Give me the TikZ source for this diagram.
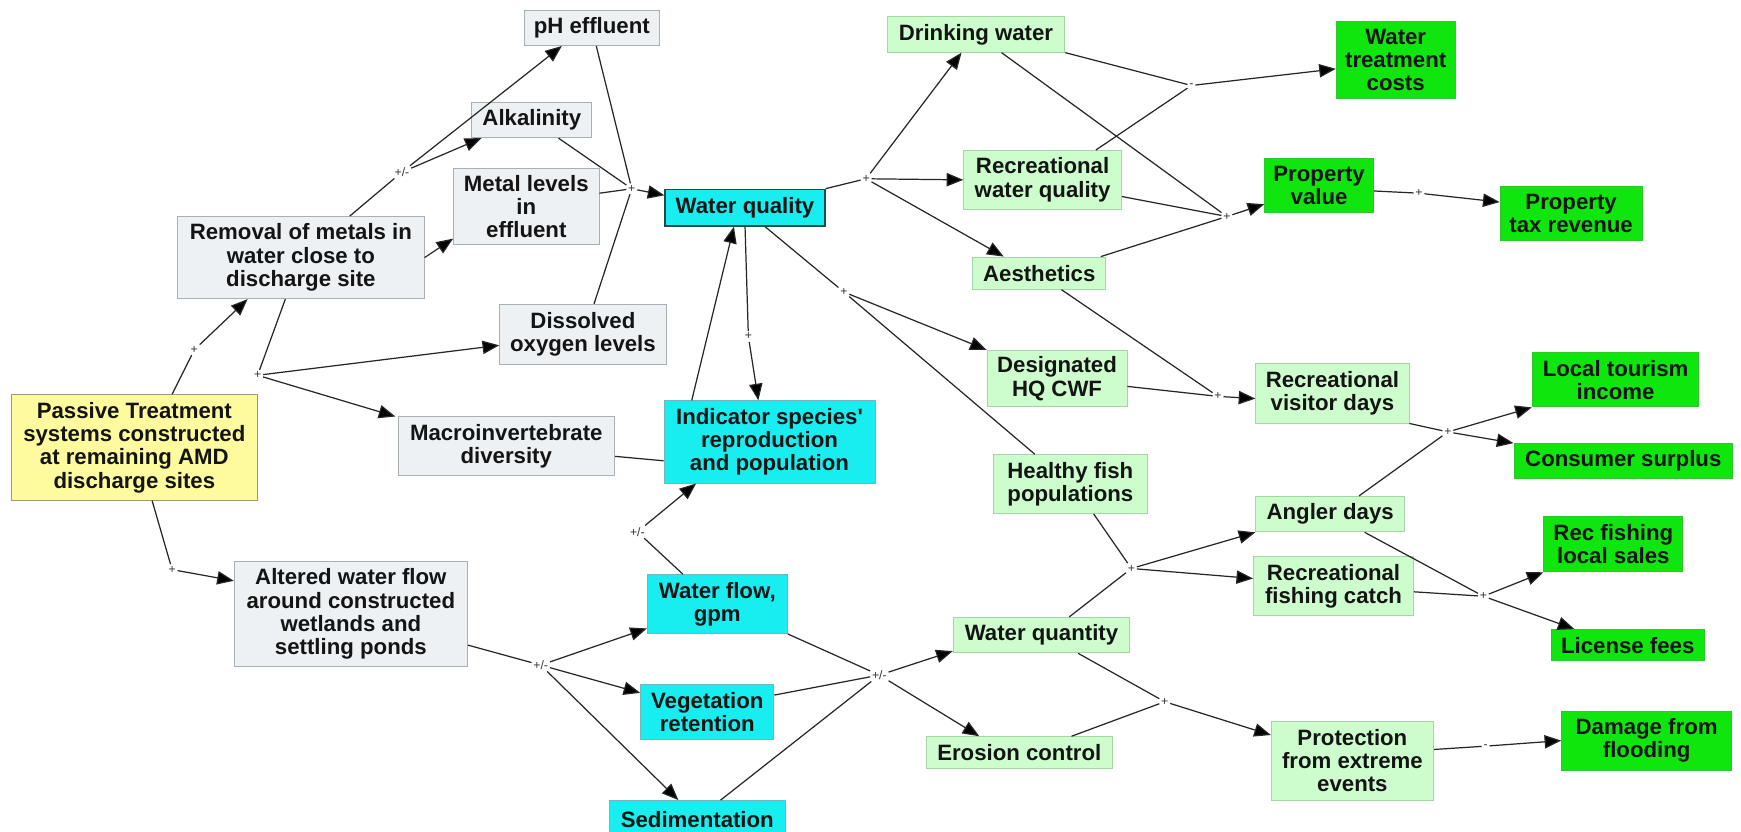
\documentclass[tikz,border=0pt]{standalone}
\usepackage{fontspec}
\setmainfont{Liberation Sans}
\usetikzlibrary{arrows.meta}
\definecolor{gfill}{HTML}{EDF1F3}
\definecolor{gborder}{HTML}{A9B0B4}
\definecolor{yfill}{HTML}{FDFB9E}
\definecolor{yborder}{HTML}{9C9A78}
\definecolor{cfill}{HTML}{18EEF0}
\definecolor{cborder}{HTML}{6FB8BC}
\definecolor{wqborder}{HTML}{1E4A50}
\definecolor{lgfill}{HTML}{CDFDCD}
\definecolor{lgborder}{HTML}{A6D4A6}
\definecolor{gnfill}{HTML}{0EE60E}
\definecolor{gnborder}{HTML}{2CC82C}
\definecolor{jtext}{HTML}{333333}
\begin{document}
\begin{tikzpicture}[x=1pt,y=-1pt,
  box/.style={line width=0.8pt, align=center, inner sep=2pt,
    font=\fontsize{20}{21}\selectfont\bfseries, text=black!92},
  gbox/.style={box, fill=gfill, draw=gborder},
  ybox/.style={box, fill=yfill, draw=yborder},
  cbox/.style={box, fill=cfill, draw=cborder},
  lbox/.style={box, fill=lgfill, draw=lgborder},
  nbox/.style={box, fill=gnfill, draw=gnborder},
  jl/.style={font=\fontsize{11}{11}\selectfont, text=jtext, inner sep=1.5pt},
  ln/.style={line width=1.1pt, draw=black!85},
  ar/.style={ln, -{Triangle[length=15pt,width=12pt,fill=black]}}]
\fill[white] (0,0) rectangle (1568,749);
\useasboundingbox (0,0) rectangle (1568,749);

% grey nodes
\node[gbox, minimum width=122pt, minimum height=32pt] (ph) at (533,25) {pH effluent};
\node[gbox, minimum width=108pt, minimum height=32pt] (alk) at (479,108) {Alkalinity};
\node[gbox, minimum width=131pt, minimum height=69pt] (metal) at (474,186) {Metal levels\\in\\effluent};
\node[gbox, minimum width=222pt, minimum height=74pt] (removal) at (271,232) {Removal of metals in\\water close to\\discharge site};
\node[gbox, minimum width=150pt, minimum height=54pt] (dox) at (525,301) {Dissolved\\oxygen levels};
\node[gbox, minimum width=195pt, minimum height=53pt] (macro) at (456,402) {Macroinvertebrate\\diversity};
\node[gbox, minimum width=210pt, minimum height=95pt] (altered) at (316,553) {Altered water flow\\around constructed\\wetlands and\\settling ponds};
% yellow
\node[ybox, minimum width=222pt, minimum height=95pt] (passive) at (121,403) {Passive Treatment\\systems constructed\\at remaining AMD\\discharge sites};
% cyan
\node[cbox, draw=wqborder, line width=1.2pt, minimum width=144pt, minimum height=33pt] (wq) at (671,187) {Water quality};
\node[cbox, minimum width=190pt, minimum height=74pt] (indic) at (693,398) {Indicator species\textquotesingle\\reproduction\\and population};
\node[cbox, minimum width=126pt, minimum height=53pt] (wflow) at (646,544) {Water flow,\\gpm};
\node[cbox, minimum width=120pt, minimum height=50pt] (veg) at (637,641) {Vegetation\\retention};
\node[cbox, minimum width=159pt, minimum height=34pt] (sed) at (628,738) {Sedimentation};
% light green
\node[lbox, minimum width=160pt, minimum height=32pt] (drink) at (879,31) {Drinking water};
\node[lbox, minimum width=142pt, minimum height=53pt] (recwq) at (939,162) {Recreational\\water quality};
\node[lbox, minimum width=120pt, minimum height=29pt] (aes) at (936,246) {Aesthetics};
\node[lbox, minimum width=126pt, minimum height=51pt] (desig) at (952,341) {Designated\\HQ CWF};
\node[lbox, minimum width=138pt, minimum height=53pt] (fish) at (964,436) {Healthy fish\\populations};
\node[lbox, minimum width=159pt, minimum height=32pt] (wqty) at (938,572) {Water quantity};
\node[lbox, minimum width=168pt, minimum height=29pt] (eros) at (918,678) {Erosion control};
\node[lbox, minimum width=138pt, minimum height=54pt] (rvd) at (1200,354) {Recreational\\visitor days};
\node[lbox, minimum width=134pt, minimum height=32pt] (angler) at (1198,463) {Angler days};
\node[lbox, minimum width=144pt, minimum height=53pt] (rfc) at (1201,528) {Recreational\\fishing catch};
\node[lbox, minimum width=146pt, minimum height=71pt] (prot) at (1218,685) {Protection\\from extreme\\events};
% green
\node[nbox, minimum width=107pt, minimum height=70pt] (wtc) at (1257,54) {Water\\treatment\\costs};
\node[nbox, minimum width=98pt, minimum height=49pt] (propv) at (1188,167) {Property\\value};
\node[nbox, minimum width=128pt, minimum height=49pt] (ptax) at (1415,192) {Property\\tax revenue};
\node[nbox, minimum width=150pt, minimum height=49pt] (lti) at (1455,342) {Local tourism\\income};
\node[nbox, minimum width=197pt, minimum height=31pt] (cs) at (1462,415) {Consumer surplus};
\node[nbox, minimum width=125pt, minimum height=50pt] (rfls) at (1453,490) {Rec fishing\\local sales};
\node[nbox, minimum width=138pt, minimum height=28pt] (lic) at (1466,581) {License fees};
\node[nbox, minimum width=153pt, minimum height=53pt] (dmg) at (1483,667) {Damage from\\flooding};

% junctions
\node[jl] (ja) at (175,315) {+};
\node[jl] (jb) at (232,338) {+};
\node[jl] (jc) at (362,155) {+/-};
\node[jl] (jd) at (569,170) {+};
\node[jl] (je) at (780,161) {+};
\node[jl] (jf) at (1073,77) {-};
\node[jl] (jg) at (1105,195) {+};
\node[jl] (jh) at (1278,174) {+};
\node[jl] (ji) at (674,303) {+};
\node[jl] (jj) at (760,263) {+};
\node[jl] (jk) at (1097,357) {+};
\node[jl] (jl) at (155,513) {+};
\node[jl] (jm) at (574,479) {+/-};
\node[jl] (jn) at (487,599) {+/-};
\node[jl] (jo) at (792,608) {+/-};
\node[jl] (jp) at (1019,512) {+};
\node[jl] (jq) at (1049,632) {+};
\node[jl] (jr) at (1304,389) {+};
\node[jl] (js) at (1336,537) {+};
\node[jl] (jt) at (1338,672) {-};

% connectors
\draw[ln] ([xshift=34pt]passive.north) -- (ja);
\draw[ar] (ja) -- ([xshift=-48pt]removal.south);

\draw[ln] ([xshift=-14pt]removal.south) -- (jb);
\draw[ar] (jb) -- ([yshift=-10pt]dox.west);
\draw[ar] (jb) -- ([xshift=-2pt]macro.north west);

\draw[ln] ([xshift=44pt]removal.north) -- (jc);
\draw[ar] (jc) -- ([xshift=9pt]alk.south west);
\draw[ar] (jc) -- ([xshift=-27pt]ph.south);

\draw[ar] (removal.east) -- ([yshift=6pt]metal.south west);

\draw[ln] ([xshift=4pt]ph.south) -- (jd);
\draw[ln] ([xshift=24pt]alk.south) -- (jd);
\draw[ln] ([yshift=12pt]metal.east) -- (jd);
\draw[ln] ([xshift=10pt]dox.north) -- (jd);
\draw[ar] (jd) -- ([yshift=-6pt]wq.north west);

\draw[ln] (wq.north east) -- (je);
\draw[ar] (je) -- ([xshift=-13pt]drink.south);
\draw[ar] (je) -- (recwq.west);
\draw[ar] (je) -- ([xshift=-32pt]aes.north);

\draw[ln] (drink.south east) -- (jf);
\draw[ln] ([xshift=48pt]recwq.north) -- (jf);
\draw[ar] (jf) -- ([yshift=-8pt]wtc.west);

\draw[ln] ([xshift=23pt]drink.south) -- (jg);
\draw[ln] ([yshift=-15pt]recwq.east) -- (jg);
\draw[ln] ([xshift=-5pt]aes.north east) -- (jg);
\draw[ar] (jg) -- ([yshift=8pt]propv.south west);

\draw[ln] ([yshift=-5pt]propv.east) -- (jh);
\draw[ar] (jh) -- ([yshift=10pt]ptax.west);

\draw[ln] (wq.south) -- (ji);
\draw[ar] (ji) -- ([xshift=-10pt]indic.north);
\draw[ar] ([xshift=-70pt]indic.north) -- ([xshift=-10pt]wq.south);

\draw[ln] ([xshift=18pt]wq.south) -- (jj);
\draw[ar] (jj) -- (desig.north west);
\draw[ln] ([xshift=-32pt]fish.north) -- (jj);

\draw[ln] ([xshift=20pt]aes.south) -- (jk);
\draw[ln] ([yshift=-7pt]desig.east) -- (jk);
\draw[ar] (jk) -- ([yshift=-5pt]rvd.west);

\draw[ln] ([xshift=16pt]passive.south) -- (jl);
\draw[ar] (jl) -- ([yshift=-18pt]altered.north west);

\draw[ln] ([yshift=-9pt]macro.east) -- ([yshift=-17pt]indic.west);

\draw[ln] ([xshift=-31pt]wflow.north) -- (jm);
\draw[ar] (jm) -- ([xshift=-66pt]indic.south);

\draw[ln] ([yshift=-28pt]altered.east) -- (jn);
\draw[ar] (jn) -- ([yshift=-22pt]wflow.west);
\draw[ar] (jn) -- ([yshift=17pt]veg.west);
\draw[ar] (jn) -- ([xshift=-17pt]sed.north);

\draw[ln] (wflow.south east) -- (jo);
\draw[ln] ([yshift=15pt]veg.east) -- (jo);
\draw[ln] ([xshift=21pt]sed.north) -- (jo);
\draw[ar] (jo) -- ([yshift=2pt]wqty.south west);
\draw[ar] (jo) -- ([xshift=-36pt]eros.north);

\draw[ln] ([xshift=21pt]fish.south) -- (jp);
\draw[ln] ([xshift=25pt]wqty.north) -- (jp);
\draw[ar] (jp) -- (angler.south west);
\draw[ar] (jp) -- ([yshift=7pt]rfc.west);

\draw[ln] ([xshift=33pt]wqty.south) -- (jq);
\draw[ln] ([xshift=47pt]eros.north) -- (jq);
\draw[ar] (jq) -- ([yshift=23pt]prot.west);

\draw[ln] (rvd.south east) -- (jr);
\draw[ln] ([xshift=26pt]angler.north) -- (jr);
\draw[ar] (jr) -- (lti.south west);
\draw[ar] (jr) -- (cs.north west);

\draw[ln] ([xshift=31pt]angler.south) -- (js);
\draw[ln] ([yshift=-5pt]rfc.east) -- (js);
\draw[ar] (js) -- (rfls.south west);
\draw[ar] (js) -- ([xshift=-48pt]lic.north);

\draw[ln] ([yshift=10pt]prot.east) -- (jt);
\draw[ar] (jt) -- (dmg.west);
\end{tikzpicture}
\end{document}
